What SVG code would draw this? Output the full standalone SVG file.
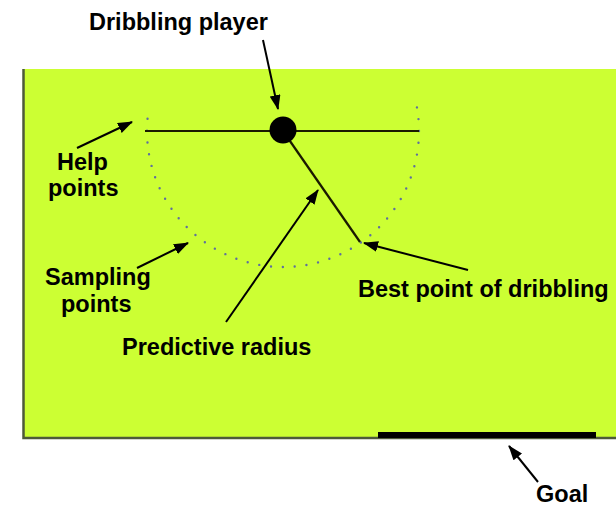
<svg xmlns="http://www.w3.org/2000/svg" width="616" height="508" viewBox="0 0 616 508">
  <style>
    .lbl { font-family: "Liberation Sans", Arial, sans-serif; font-weight: bold; font-size: 23.5px; fill: #000; }
    .arrow { stroke: #000; stroke-width: 2; fill: none; marker-end: url(#ah); }
    .line { stroke: #1a1a00; stroke-width: 2.2; fill: none; }
    .dots { stroke: #5f6f9f; stroke-width: 2.4; stroke-linecap: round; fill: none; stroke-dasharray: 0 11.868; }
    .border { stroke: #4d5a3a; stroke-width: 2.5; fill: none; }
  </style>
  <defs>
    <marker id="ah" markerUnits="userSpaceOnUse" markerWidth="15" markerHeight="11" refX="14" refY="5.5" orient="auto">
      <path d="M0,0 L15,5.5 L0,11 z" fill="#000"/>
    </marker>
  </defs>
  <rect width="616" height="508" fill="#ffffff"/>

  <g id="field">
    <rect x="23" y="69" width="593" height="369" fill="#ccff33"/>
    <path class="border" d="M23.5 69 V438 H616"/>
  </g>

  <g id="goal">
    <rect x="378" y="432" width="218" height="6" fill="#000"/>
    <text class="lbl" x="536" y="502">Goal</text>
  </g>

  <g id="sampling-points">
    <path class="dots" d="M416.94 107.38 A136 136 0 1 1 149.06 107.38"/>
  </g>

  <g id="help-line">
    <line class="line" x1="145" y1="131" x2="419" y2="131"/>
  </g>

  <g id="predictive-radius-line">
    <line class="line" x1="283" y1="131" x2="360" y2="242"/>
  </g>

  <g id="dribbling-player">
    <circle cx="283" cy="130" r="13.5" fill="#000"/>
    <text class="lbl" x="89" y="30">Dribbling player</text>
  </g>

  <g id="help-points-label">
    <text class="lbl" x="57" y="170">Help</text>
    <text class="lbl" x="48" y="196">points</text>
  </g>

  <g id="sampling-points-label">
    <text class="lbl" x="45" y="285">Sampling</text>
    <text class="lbl" x="61" y="312">points</text>
  </g>

  <g id="predictive-radius-label">
    <text class="lbl" x="122" y="355">Predictive radius</text>
  </g>

  <g id="best-point-label">
    <text class="lbl" x="358" y="297">Best point of dribbling</text>
  </g>

  <g id="connectors">
    <line class="arrow" x1="263" y1="40" x2="278" y2="109"/>
    <line class="arrow" x1="77" y1="148" x2="132" y2="122"/>
    <line class="arrow" x1="137" y1="268" x2="188" y2="243"/>
    <line class="arrow" x1="226" y1="322" x2="318" y2="190"/>
    <line class="arrow" x1="468" y1="270" x2="364" y2="243"/>
    <line class="arrow" x1="538" y1="482" x2="509" y2="446"/>
  </g>
</svg>
